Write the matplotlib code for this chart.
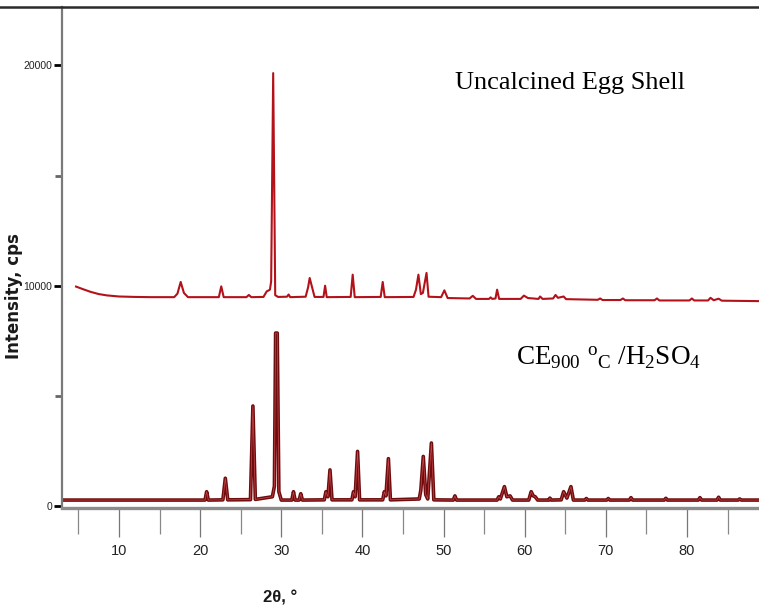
import matplotlib
matplotlib.use("Agg")
import matplotlib.pyplot as plt
from matplotlib.lines import Line2D
from matplotlib.ticker import MultipleLocator

# Uncalcined egg shell pattern (2theta, cps)
raw_tt = [4.7, 5.5, 6.5, 7.5, 8.5, 10.0, 12.0, 14.0, 16.8, 17.2, 17.6, 18.0, 18.5,
          22.3, 22.6, 22.9, 25.7, 26.0, 26.3, 27.8, 28.2, 28.6, 28.75, 29.0, 29.25,
          29.6, 30.7, 30.9, 31.1, 33.0, 33.3, 33.5, 33.8, 34.1, 35.2, 35.4, 35.6,
          38.55, 38.8, 39.05, 42.25, 42.5, 42.75, 46.3, 46.6, 46.9, 47.2, 47.45, 47.9,
          48.15, 49.7, 50.1, 50.5, 53.2, 53.6, 54.0, 55.6, 55.8, 56.0, 56.4, 56.6,
          56.85, 59.5, 59.9, 60.4, 61.7, 61.9, 62.2, 63.5, 63.8, 64.1, 64.8, 65.1,
          69.0, 69.3, 69.6, 71.8, 72.1, 72.4, 76.0, 76.3, 76.6, 80.3, 80.6, 80.9,
          82.6, 82.9, 83.3, 83.9, 84.3, 88.9]
raw_cps = [9960, 9850, 9720, 9620, 9560, 9510, 9490, 9480, 9480, 9640, 10170, 9670, 9480,
           9480, 9970, 9480, 9480, 9580, 9480, 9490, 9740, 9820, 10200, 19650, 9570,
           9490, 9500, 9600, 9480, 9500, 9920, 10350, 9920, 9490, 9490, 10000, 9480,
           9490, 10500, 9480, 9490, 10170, 9480, 9490, 9820, 10500, 9620, 9670, 10580,
           9500, 9480, 9790, 9440, 9420, 9540, 9400, 9400, 9470, 9400, 9420, 9820,
           9400, 9400, 9550, 9440, 9400, 9510, 9400, 9420, 9580, 9450, 9510, 9390,
           9360, 9420, 9350, 9350, 9420, 9340, 9340, 9420, 9330, 9330, 9420, 9330,
           9330, 9450, 9340, 9410, 9320, 9300]

# CE 900 C / H2SO4 pattern (2theta, cps)
acid_tt = [3.0, 20.6, 20.8, 21.0, 22.8, 23.1, 23.4, 26.2, 26.5, 26.8, 28.9, 29.15, 29.3,
           29.5, 29.7, 30.0, 31.3, 31.5, 31.7, 32.2, 32.4, 32.6, 35.3, 35.5, 35.75,
           36.0, 36.25, 38.7, 38.9, 39.1, 39.4, 39.65, 42.5, 42.7, 42.9, 43.2, 43.45,
           47.0, 47.2, 47.5, 47.8, 48.05, 48.5, 48.8, 51.2, 51.4, 51.6, 56.6, 56.8,
           57.0, 57.5, 57.8, 58.2, 58.5, 60.5, 60.8, 61.05, 61.3, 61.6, 63.0, 63.1,
           63.3, 64.5, 64.8, 65.2, 65.7, 66.0, 67.4, 67.6, 67.8, 70.1, 70.3, 70.5,
           72.9, 73.1, 73.3, 77.2, 77.4, 77.6, 81.4, 81.6, 81.8, 83.7, 83.9, 84.1,
           86.3, 86.5, 86.7, 88.9]
acid_cps = [270, 270, 650, 270, 280, 1260, 280, 290, 4540, 300, 420, 900, 7850,
            7850, 650, 270, 270, 650, 270, 270, 560, 270, 280, 650, 420,
            1640, 280, 280, 650, 420, 2480, 280, 280, 650, 460, 2150, 280,
            320, 720, 2250, 520, 320, 2860, 280, 270, 460, 270, 270, 420,
            320, 880, 420, 460, 270, 270, 650, 460, 420, 270, 270, 360,
            270, 280, 650, 360, 880, 270, 270, 340, 270, 270, 340, 270,
            270, 380, 270, 270, 350, 270, 270, 380, 270, 270, 400, 270,
            270, 320, 270, 270]

x_major = [10, 20, 30, 40, 50, 60, 70, 80]
y_major = [0, 10000, 20000]

W, H = 759, 614
fig = plt.figure(figsize=(W / 100, H / 100), dpi=100)
fig.patch.set_facecolor("white")

sans = "Liberation Sans"
serif = "Liberation Serif"
plt.rcParams["mathtext.default"] = "regular"

ax = fig.add_axes([62 / W, 1 - 508 / H, 1 - 62 / W, (508 - 7) / H])
ax.plot(raw_tt, raw_cps, color="#b3121a", lw=1.5, solid_joinstyle="round")
ax.plot(acid_tt, acid_cps, color="#6e0c0e", lw=2.6, solid_joinstyle="round")
ax.plot(acid_tt, acid_cps, color="#c8474a", lw=0.5)

ax.set_xlim(2.97, 88.88)
ax.set_ylim(-90, 22650)

for s in ("top", "right"):
    ax.spines[s].set_visible(False)
ax.spines["left"].set_color("#7a7a7a")
ax.spines["left"].set_linewidth(1.6)
ax.spines["bottom"].set_color("#8c8c8c")
ax.spines["bottom"].set_linewidth(2.4)

ax.set_xticks(x_major)
ax.xaxis.set_minor_locator(MultipleLocator(5))
ax.set_yticks(y_major)
ax.yaxis.set_minor_locator(MultipleLocator(5000))
ax.tick_params(axis="x", which="major", direction="out", length=21, width=0.9,
               color="#777777", pad=5, labelsize=10.5)
ax.tick_params(axis="x", which="minor", direction="out", length=19, width=0.9,
               color="#888888")
ax.tick_params(axis="y", which="major", direction="out", length=6, width=2.0,
               color="black", pad=1, labelsize=7.5)
ax.tick_params(axis="y", which="minor", direction="out", length=5, width=2.0,
               color="#666666")
for lab in ax.get_xticklabels() + ax.get_yticklabels():
    lab.set_family(sans)
    lab.set_color("#222222")

# heavy rule across the top of the page
fig.add_artist(Line2D([0, 1], [1 - 7 / H, 1 - 7 / H], transform=fig.transFigure,
                      color="#2b2b2b", lw=1.8))

fig.text(14 / W, 1 - 296 / H, "Intensity, cps", rotation=90, ha="center", va="center",
         fontsize=12, fontweight="bold", color="#1a1a1a", family="DejaVu Sans")
fig.text(280 / W, 1 - 598 / H, "2θ, °", ha="center", va="center", fontsize=12,
         fontweight="bold", color="#1a1a1a", family=[sans, "DejaVu Sans"])

fig.text(455 / W, 1 - 89 / H, "Uncalcined Egg Shell", ha="left", va="baseline",
         fontsize=19, family=serif, color="black")
fig.text(516 / W, 1 - 365 / H, r"CE$_{900}$ $^{o}$$_{C}$ /H$_2$SO$_4$", ha="left",
         va="baseline", fontsize=19.5, family=serif, color="black")

fig.savefig("out.png", dpi=100, facecolor="white")
